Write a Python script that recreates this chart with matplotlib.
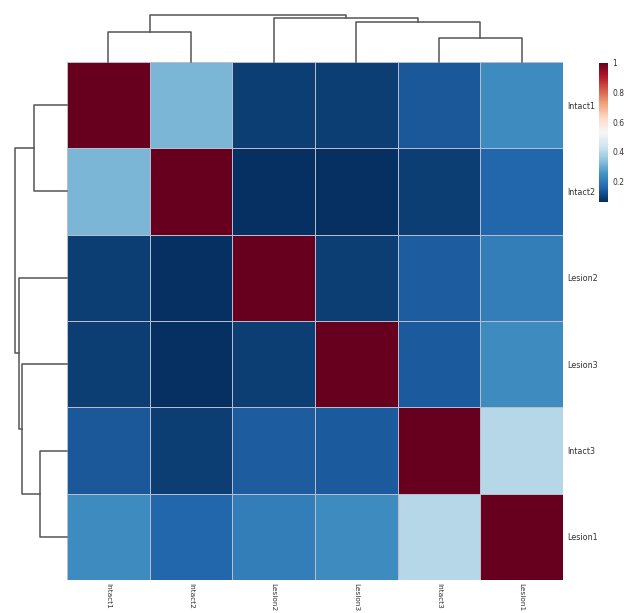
import matplotlib
matplotlib.use('Agg')
import matplotlib.pyplot as plt
import numpy as np

# sample order as displayed (rows top->bottom, cols left->right)
samples = ['Intact1', 'Intact2', 'Lesion2', 'Lesion3', 'Intact3', 'Lesion1']

# correlation matrix
corr = np.array([
    [1.00, 0.32, 0.09, 0.09, 0.135, 0.24],
    [0.32, 1.00, 0.065, 0.06, 0.09, 0.16],
    [0.09, 0.065, 1.00, 0.09, 0.145, 0.21],
    [0.09, 0.06, 0.09, 1.00, 0.14, 0.24],
    [0.135, 0.09, 0.145, 0.14, 1.00, 0.40],
    [0.24, 0.16, 0.21, 0.24, 0.40, 1.00],
])

# linkage (leaf ids are display positions, new clusters get 6, 7, ...)
link_a = [0, 4, 3, 2, 6]
link_b = [1, 5, 7, 8, 9]
link_h = [0.64, 0.52, 0.86, 0.925, 1.0]

cbar_ticks = [0.2, 0.4, 0.6, 0.8, 1]
cbar_labels = ['0.2', '0.4', '0.6', '0.8', '1']


def dendro(ax, orient):
    pos = {i: i + 0.5 for i in range(len(samples))}
    hgt = {i: 0.0 for i in range(len(samples))}
    for k, (a, b, h) in enumerate(zip(link_a, link_b, link_h)):
        xs = [pos[a], pos[a], pos[b], pos[b]]
        ys = [hgt[a], h, h, hgt[b]]
        if orient == 'top':
            ax.plot(xs, ys, color='#555555', lw=1.1, clip_on=False)
        else:
            ax.plot(ys, xs, color='#555555', lw=1.1, clip_on=False)
        cid = len(samples) + k
        pos[cid] = (pos[a] + pos[b]) / 2
        hgt[cid] = h
    ax.axis('off')


fig = plt.figure(figsize=(6.24, 6.13), dpi=100)

ax = fig.add_axes([0.1074, 0.0538, 0.7949, 0.8451])
mesh = ax.pcolormesh(corr, cmap='RdBu_r', vmin=0.065, vmax=1.0,
                     edgecolors='#b8bccb', linewidth=0.6)
ax.set_xlim(0, 6)
ax.set_ylim(6, 0)
ax.set_xticks(np.arange(6) + 0.5)
ax.set_xticklabels(samples, rotation=270, fontsize=5.3, color='#333333')
ax.set_yticks(np.arange(6) + 0.5)
ax.set_yticklabels(samples, fontsize=5.8, color='#333333')
ax.yaxis.tick_right()
ax.tick_params(axis='y', length=0, pad=3)
ax.tick_params(axis='x', length=0, pad=2)
for s in ax.spines.values():
    s.set_visible(False)

axt = fig.add_axes([0.1074, 0.8989, 0.7949, 0.0767])
dendro(axt, 'top')
axt.set_xlim(0, 6)
axt.set_ylim(0, 1)

axl = fig.add_axes([0.024, 0.0538, 0.0833, 0.8451])
dendro(axl, 'left')
axl.set_ylim(6, 0)
axl.set_xlim(1, 0)

cax = fig.add_axes([0.96, 0.671, 0.0144, 0.2268])
cb = fig.colorbar(mesh, cax=cax, ticks=cbar_ticks)
cb.ax.set_yticklabels(cbar_labels, fontsize=5.5, color='#333333')
cb.ax.tick_params(length=0, pad=3)
cb.outline.set_visible(False)

fig.savefig('out.png', dpi=100)
